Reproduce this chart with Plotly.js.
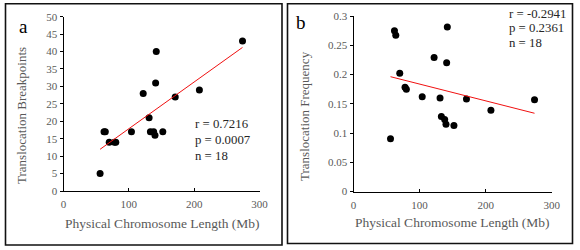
<!DOCTYPE html>
<html><head><meta charset="utf-8">
<script src="https://cdn.plot.ly/plotly-3.0.1.min.js"></script>
<style>html,body{margin:0;padding:0;background:#fff}#c{width:580px;height:250px}</style>
</head><body><div id="c"></div>
<script>
// Data
const lengthMb = [56, 62, 64, 70, 78, 80, 104, 122, 131, 133, 138, 140, 141, 142, 152, 171, 208, 274];
const breakpoints = [5, 17, 17, 14, 14, 14, 17, 28, 21, 17, 17, 16, 31, 40, 17, 27, 29, 43];
const frequency = [0.090, 0.275, 0.267, 0.202, 0.178, 0.175, 0.162, 0.229, 0.160, 0.128, 0.123, 0.115, 0.220, 0.281, 0.113, 0.158, 0.139, 0.157];
const statsA = ["r = 0.7216", "p = 0.0007", "n = 18"];
const statsB = ["r = -0.2941", "p = 0.2361", "n = 18"];
const xTitle = "Physical Chromosome Length (Mb)";

function fit(xs, ys) {
  const n = xs.length;
  const mx = xs.reduce((a, b) => a + b, 0) / n, my = ys.reduce((a, b) => a + b, 0) / n;
  let sxy = 0, sxx = 0;
  for (let i = 0; i < n; i++) { sxy += (xs[i] - mx) * (ys[i] - my); sxx += (xs[i] - mx) ** 2; }
  const b = sxy / sxx, a = my - b * mx;
  const x0 = Math.min(...xs), x1 = Math.max(...xs);
  return { x: [x0, x1], y: [a + b * x0, a + b * x1] };
}
const fa = fit(lengthMb, breakpoints), fb = fit(lengthMb, frequency);

const W = 580, H = 250;
const px = v => v / W, py = v => 1 - v / H;
const FONT = '"Liberation Serif", "Times New Roman", serif';
const GREY = "#595959";

const marker = { color: "#000", size: 7 };
const traces = [
  { x: lengthMb, y: breakpoints, mode: "markers", type: "scatter", marker, xaxis: "x", yaxis: "y", hoverinfo: "none" },
  { x: fa.x, y: fa.y, mode: "lines", type: "scatter", line: { color: "#f01010", width: 1 }, xaxis: "x", yaxis: "y" },
  { x: lengthMb, y: frequency, mode: "markers", type: "scatter", marker, xaxis: "x2", yaxis: "y2", hoverinfo: "none" },
  { x: fb.x, y: fb.y, mode: "lines", type: "scatter", line: { color: "#f01010", width: 1 }, xaxis: "x2", yaxis: "y2" }
];

const tickFont = { family: FONT, size: 11, color: GREY };
const xaxBase = {
  range: [0, 300], dtick: 100, tick0: 0, showgrid: false, zeroline: false,
  showline: true, linecolor: "#000", linewidth: 1, ticks: "inside", ticklen: 3, tickcolor: "#000",
  tickfont: tickFont, fixedrange: true, ticklabelstandoff: 3
};
const yaxBase = {
  showgrid: false, zeroline: false, showline: true, linecolor: "#000", linewidth: 1,
  ticks: "outside", ticklen: 3, tickcolor: "#000", tickfont: tickFont, fixedrange: true
};

const layout = {
  width: W, height: H, margin: { l: 0, r: 0, t: 0, b: 0 },
  font: { family: FONT },
  paper_bgcolor: "#fff", plot_bgcolor: "#fff", showlegend: false,
  xaxis: Object.assign({}, xaxBase, { domain: [px(63.5), px(259.5)], anchor: "y" }),
  yaxis: Object.assign({}, yaxBase, { domain: [py(191), py(16.7)], range: [0, 50], dtick: 5, anchor: "x" }),
  xaxis2: Object.assign({}, xaxBase, { domain: [px(353.5), px(551.7)], anchor: "y2" }),
  yaxis2: Object.assign({}, yaxBase, { domain: [py(191.5), py(16)], range: [0, 0.3], dtick: 0.05, anchor: "x2" }),
  shapes: [
    { type: "rect", xref: "paper", yref: "paper", x0: px(5.5), x1: px(282), y0: py(245), y1: py(3.8), line: { color: "#111", width: 1.6 } },
    { type: "rect", xref: "paper", yref: "paper", x0: px(287.5), x1: px(572.5), y0: py(243.5), y1: py(3.8), line: { color: "#111", width: 1.6 } }
  ],
  annotations: []
};
const ann = layout.annotations;
function txt(text, x, y, opts) {
  ann.push(Object.assign({ text, xref: "paper", yref: "paper", x: px(x), y: py(y), showarrow: false,
    xanchor: "center", yanchor: "middle", font: { family: FONT, size: 12, color: GREY } }, opts || {}));
}
// panel letters
txt("a", 23, 27, { font: { family: FONT, size: 19, color: "#000" } });
txt("b", 300.5, 23, { font: { family: FONT, size: 19, color: "#000" } });
// axis titles
txt(xTitle, 162, 223, { font: { family: FONT, size: 13.5, color: GREY } });
txt(xTitle, 452, 222, { font: { family: FONT, size: 13.5, color: GREY } });
txt("Translocation Breakpoints", 22, 116, { textangle: -90, font: { family: FONT, size: 13, color: GREY } });
txt("Translocation Frequency", 305, 116, { textangle: -90, font: { family: FONT, size: 13, color: GREY } });
// stats
const yA = [124, 140, 156], yB = [14, 28.5, 43];
statsA.forEach((s, i) => txt(s, 193, yA[i], { xanchor: "left", font: { family: FONT, size: 12.8, color: "#262626" } }));
statsB.forEach((s, i) => txt(s, 506.5, yB[i], { xanchor: "left", font: { family: FONT, size: 12.8, color: "#262626" } }));

Plotly.newPlot("c", traces, layout, { displayModeBar: false, staticPlot: true });
</script></body></html>
